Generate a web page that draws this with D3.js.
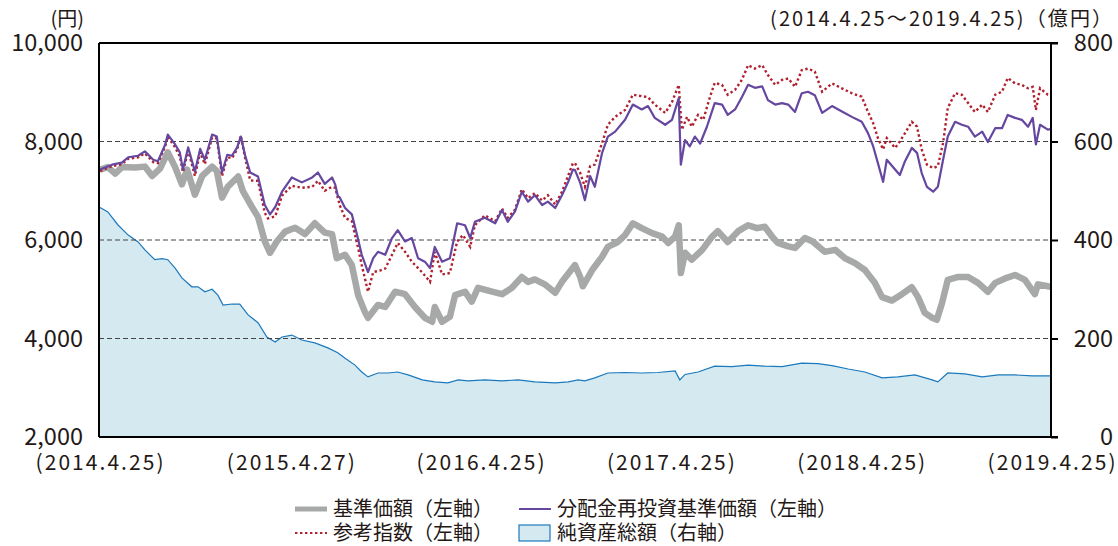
<!DOCTYPE html>
<html>
<head>
<meta charset="utf-8">
<script src="https://cdnjs.cloudflare.com/ajax/libs/d3/7.8.5/d3.min.js"></script>
<style>
  body { margin: 0; background: #fff; }
  svg text { font-family: "Noto Sans CJK JP", "Noto Sans", sans-serif; fill: #231815; }
</style>
</head>
<body>
<div id="chart-area"></div>
<script>
// period 2014.4.25 - 2019.4.25, data points are [days since start, value]
const startDate = new Date(2014, 3, 25)
const endDate = new Date(2019, 3, 25)

const xTickDates = [new Date(2014, 3, 25), new Date(2015, 3, 27), new Date(2016, 3, 25),
  new Date(2017, 3, 25), new Date(2018, 3, 25), new Date(2019, 3, 25)]
const xTickLabels = ["(2014.4.25)", "(2015.4.27)", "(2016.4.25)", "(2017.4.25)", "(2018.4.25)", "(2019.4.25)"]
const leftTicks = [2000, 4000, 6000, 8000, 10000]
const rightTicks = [0, 200, 400, 600, 800]
const gridTicks = [4000, 6000, 8000]

const seriesNames = ["基準価額（左軸）", "分配金再投資基準価額（左軸）", "参考指数（左軸）", "純資産総額（右軸）"]

// 基準価額 (円)
const basePrice = [[2,7430],[17,7480],[31,7350],[44,7480],[69,7470],[88,7490],[102,7300],[117,7450],[132,7780],[146,7480],[159,7130],[169,7430],[184,6920],[198,7300],[217,7490],[226,7400],[236,6860],[247,7080],[267,7290],[276,6990],[293,6680],[305,6470],[318,5970],[328,5740],[341,5970],[357,6170],[376,6250],[395,6120],[414,6340],[433,6150],[447,6120],[456,5630],[472,5700],[485,5490],[497,4880],[510,4540],[516,4420],[535,4680],[549,4640],[568,4950],[587,4900],[606,4640],[625,4420],[639,4340],[644,4640],[658,4340],[673,4440],[683,4880],[702,4950],[715,4750],[727,5030],[754,4950],[773,4900],[792,5030],[811,5250],[823,5150],[836,5200],[855,5100],[875,4930],[888,5150],[913,5490],[923,5250],[928,5060],[946,5390],[965,5660],[976,5860],[995,5960],[1009,6100],[1024,6340],[1041,6240],[1061,6140],[1080,6070],[1092,5940],[1105,6070],[1112,6300],[1116,5330],[1124,5740],[1137,5600],[1157,5800],[1176,6070],[1187,6180],[1206,5960],[1226,6180],[1245,6300],[1262,6240],[1277,6270],[1291,6070],[1302,5940],[1322,5870],[1335,5840],[1354,6040],[1369,5970],[1383,5840],[1392,5760],[1412,5800],[1431,5630],[1450,5530],[1469,5390],[1488,5130],[1502,4840],[1521,4770],[1540,4900],[1559,5040],[1571,4840],[1584,4520],[1598,4420],[1607,4380],[1617,4720],[1628,5190],[1648,5250],[1667,5250],[1686,5130],[1705,4950],[1719,5130],[1738,5220],[1757,5290],[1776,5190],[1795,4900],[1801,5100],[1820,5060],[1826,5050]]

// 分配金再投資基準価額 (円)
const reinvestPrice = [[2,7430],[25,7530],[44,7570],[56,7680],[75,7710],[88,7800],[104,7630],[113,7600],[127,7940],[132,8140],[146,7940],[155,7780],[161,7430],[171,7880],[184,7390],[194,7850],[203,7630],[217,8140],[226,8100],[236,7370],[246,7730],[255,7710],[265,7880],[272,8100],[280,7730],[290,7370],[305,7290],[318,6710],[328,6520],[338,6670],[351,6980],[370,7270],[389,7170],[409,7270],[420,7370],[433,7140],[447,7270],[453,7130],[458,6900],[462,6860],[472,6650],[485,6520],[495,6100],[504,5700],[516,5350],[526,5630],[535,5760],[549,5700],[562,6040],[573,6200],[587,5970],[600,6040],[612,5630],[625,5560],[635,5430],[644,5860],[658,5560],[673,5630],[687,6340],[702,6300],[712,6040],[721,6370],[740,6450],[760,6340],[773,6610],[784,6370],[798,6580],[811,6980],[823,6780],[836,6910],[850,6710],[861,6780],[875,6650],[888,6910],[900,7180],[909,7430],[913,7420],[923,7160],[932,6810],[942,7300],[951,7080],[965,7770],[976,8100],[990,8200],[1009,8440],[1024,8750],[1041,8650],[1053,8720],[1066,8480],[1086,8340],[1099,8440],[1112,8880],[1116,7530],[1124,8030],[1133,7900],[1143,8100],[1153,7960],[1166,8300],[1181,8780],[1195,8750],[1206,8540],[1220,8650],[1233,8900],[1245,9150],[1258,9090],[1272,9120],[1283,8840],[1297,8750],[1310,8780],[1322,8750],[1335,8600],[1348,8980],[1360,9010],[1373,8940],[1387,8580],[1406,8720],[1425,8610],[1444,8500],[1463,8400],[1475,8170],[1485,7900],[1494,7560],[1504,7180],[1511,7630],[1527,7430],[1536,7320],[1546,7600],[1559,7870],[1569,7770],[1578,7360],[1588,7080],[1600,6980],[1609,7080],[1619,7630],[1628,8100],[1642,8400],[1655,8340],[1667,8300],[1680,8100],[1694,8200],[1705,7990],[1719,8270],[1732,8270],[1743,8540],[1757,8480],[1770,8440],[1782,8300],[1791,8480],[1797,7940],[1805,8340],[1820,8240],[1826,8260]]

// 参考指数
const refIndex = [[2,7400],[25,7500],[44,7540],[56,7650],[75,7680],[88,7760],[104,7580],[113,7560],[127,7900],[132,8100],[146,7880],[155,7700],[161,7380],[171,7820],[184,7300],[194,7780],[203,7540],[217,8080],[226,8060],[236,7300],[246,7680],[255,7660],[265,7840],[272,8120],[280,7680],[290,7210],[305,7200],[318,6550],[324,6440],[338,6480],[351,6900],[370,7100],[389,7060],[409,7080],[420,7200],[433,7000],[447,7080],[453,7060],[462,6700],[472,6450],[485,6380],[497,5840],[504,5490],[516,4950],[526,5350],[539,5380],[549,5420],[562,5700],[573,5940],[587,5760],[600,5560],[612,5430],[621,5330],[635,5150],[644,5760],[658,5300],[673,5330],[687,5970],[698,6100],[712,5860],[721,6300],[740,6500],[760,6380],[773,6640],[784,6450],[798,6620],[811,7030],[823,6850],[836,6950],[850,6800],[861,6910],[875,6720],[888,6980],[900,7310],[909,7560],[913,7560],[923,7360],[932,7080],[942,7500],[951,7530],[965,7970],[976,8340],[990,8500],[1009,8640],[1024,8950],[1041,8920],[1053,8900],[1066,8750],[1086,8580],[1099,8800],[1112,9150],[1118,8240],[1128,8500],[1137,8300],[1149,8540],[1159,8440],[1172,8910],[1181,9190],[1195,9150],[1206,8950],[1220,9050],[1233,9250],[1245,9550],[1258,9480],[1272,9550],[1283,9350],[1297,9150],[1310,9250],[1322,9280],[1335,9110],[1348,9450],[1360,9480],[1373,9420],[1387,9010],[1406,9180],[1425,9080],[1444,8980],[1463,8910],[1475,8600],[1485,8370],[1494,8070],[1504,7840],[1511,8070],[1527,7870],[1536,8000],[1546,8170],[1559,8400],[1569,8300],[1578,7840],[1588,7530],[1600,7460],[1609,7500],[1619,7970],[1628,8680],[1642,8980],[1655,8950],[1667,8780],[1680,8600],[1694,8750],[1705,8600],[1719,8950],[1732,9010],[1743,9290],[1757,9180],[1770,9150],[1782,9080],[1791,9110],[1797,8640],[1805,9080],[1820,8950],[1826,8930]]

// 純資産総額 (億円)
const netAssets = [[2,466],[17,457],[36,431],[56,410],[75,396],[88,380],[107,360],[121,362],[132,360],[146,343],[159,323],[178,305],[190,305],[203,295],[217,300],[228,288],[238,268],[255,270],[270,270],[286,248],[305,232],[322,203],[338,193],[351,203],[370,207],[389,197],[414,191],[439,181],[458,171],[472,160],[491,146],[504,132],[516,122],[535,130],[554,130],[573,132],[593,126],[620,116],[644,112],[669,110],[689,116],[708,114],[740,116],[773,114],[804,116],[836,112],[875,110],[900,112],[919,116],[932,114],[951,120],[976,130],[1009,131],[1041,130],[1072,131],[1105,134],[1114,116],[1124,127],[1149,132],[1181,144],[1214,143],[1245,146],[1277,144],[1310,143],[1348,150],[1379,149],[1406,145],[1437,138],[1469,132],[1502,120],[1532,122],[1565,126],[1598,116],[1609,112],[1628,130],[1661,128],[1694,122],[1725,126],[1757,126],[1790,124],[1820,124],[1826,124]]

class FundChart {
  constructor(_parentElement) {
    this.parentElement = _parentElement
    this.initVis()
  }

  initVis() {
    const vis = this

    vis.MARGIN = { LEFT: 99, RIGHT: 67, TOP: 43, BOTTOM: 109 }
    vis.WIDTH = 1118 - vis.MARGIN.LEFT - vis.MARGIN.RIGHT
    vis.HEIGHT = 546 - vis.MARGIN.TOP - vis.MARGIN.BOTTOM

    vis.svg = d3.select(vis.parentElement)
      .append("svg")
      .attr("width", 1118)
      .attr("height", 546)

    vis.g = vis.svg.append("g")
      .attr("transform", `translate(${vis.MARGIN.LEFT}, ${vis.MARGIN.TOP})`)

    vis.x = d3.scaleTime().domain([startDate, endDate]).range([0, vis.WIDTH])
    vis.yLeft = d3.scaleLinear().domain([2000, 10000]).range([vis.HEIGHT, 0])
    vis.yRight = d3.scaleLinear().domain([0, 800]).range([vis.HEIGHT, 0])

    vis.dayX = d => vis.x(d3.timeDay.offset(startDate, d[0]))

    vis.drawSeries()
    vis.drawAxes()
    vis.drawLegend()
  }

  drawSeries() {
    const vis = this

    // net assets area (right axis)
    const area = d3.area()
      .x(vis.dayX)
      .y0(vis.HEIGHT)
      .y1(d => vis.yRight(d[1]))
    vis.g.append("path")
      .datum(netAssets)
      .attr("d", area)
      .attr("fill", "#d4e9f0")
    vis.g.append("path")
      .datum(netAssets)
      .attr("d", d3.line().x(vis.dayX).y(d => vis.yRight(d[1])))
      .attr("fill", "none")
      .attr("stroke", "#1b79bd")
      .attr("stroke-width", 1.2)

    // grid
    vis.g.selectAll(".grid")
      .data(gridTicks)
      .enter()
      .append("line")
      .attr("class", "grid")
      .attr("x1", 0)
      .attr("x2", vis.WIDTH)
      .attr("y1", d => vis.yLeft(d))
      .attr("y2", d => vis.yLeft(d))
      .attr("stroke", "#444")
      .attr("stroke-width", 1)
      .attr("stroke-dasharray", "5,3")

    const line = d3.line().x(vis.dayX).y(d => vis.yLeft(d[1]))

    vis.g.append("path")
      .datum(basePrice)
      .attr("d", line)
      .attr("fill", "none")
      .attr("stroke", "#a7a8a8")
      .attr("stroke-width", 6.5)
      .attr("stroke-linejoin", "round")

    vis.g.append("path")
      .datum(refIndex)
      .attr("d", line)
      .attr("fill", "none")
      .attr("stroke", "#b0202f")
      .attr("stroke-width", 2.4)
      .attr("stroke-dasharray", "2.4,2.6")

    vis.g.append("path")
      .datum(reinvestPrice)
      .attr("d", line)
      .attr("fill", "none")
      .attr("stroke", "#6547a0")
      .attr("stroke-width", 2.2)
      .attr("stroke-linejoin", "round")
  }

  drawAxes() {
    const vis = this

    // frame
    const frame = vis.g.append("g")
      .attr("stroke", "#000")
      .attr("stroke-width", 2)
    frame.append("line").attr("x1", 0).attr("x2", vis.WIDTH + 7).attr("y1", 0).attr("y2", 0)
    frame.append("line").attr("x1", 0).attr("x2", vis.WIDTH + 7).attr("y1", vis.HEIGHT).attr("y2", vis.HEIGHT)
    frame.append("line").attr("x1", 0).attr("x2", 0).attr("y1", 0).attr("y2", vis.HEIGHT)
    frame.append("line").attr("x1", vis.WIDTH).attr("x2", vis.WIDTH).attr("y1", 0).attr("y2", vis.HEIGHT)

    const yLeftAxis = vis.g.append("g")
      .call(d3.axisLeft(vis.yLeft).tickValues(leftTicks).tickSize(0).tickPadding(16).tickFormat(d3.format(",")))
    yLeftAxis.select(".domain").remove()
    yLeftAxis.selectAll("text").attr("font-size", "23.5px").attr("fill", "#231815")

    const yRightAxis = vis.g.append("g")
      .attr("transform", `translate(${vis.WIDTH}, 0)`)
      .call(d3.axisRight(vis.yRight).tickValues(rightTicks).tickSize(7))
    yRightAxis.select(".domain").remove()
    yRightAxis.selectAll("line").attr("stroke", "#000").attr("stroke-width", 2)
    yRightAxis.selectAll("text")
      .attr("x", 62)
      .attr("text-anchor", "end")
      .attr("font-size", "23.5px")
      .attr("fill", "#231815")

    const xAxis = vis.g.append("g")
      .attr("transform", `translate(0, ${vis.HEIGHT})`)
      .call(d3.axisBottom(vis.x).tickValues(xTickDates).tickSize(0).tickPadding(18)
        .tickFormat((d, i) => xTickLabels[i]))
    xAxis.select(".domain").remove()
    xAxis.selectAll("text")
      .attr("font-size", "21px")
      .attr("fill", "#231815")
      .attr("textLength", 128)
      .attr("lengthAdjust", "spacing")

    vis.svg.append("text")
      .attr("x", 84)
      .attr("y", 26)
      .attr("text-anchor", "end")
      .attr("font-size", "20px")
      .text("(円)")

    vis.svg.append("text")
      .attr("x", 1112)
      .attr("y", 26)
      .attr("text-anchor", "end")
      .attr("font-size", "20px")
      .attr("textLength", 342)
      .attr("lengthAdjust", "spacing")
      .text("(2014.4.25～2019.4.25)（億円）")
  }

  drawLegend() {
    const vis = this
    const rows = [
      { name: seriesNames[0], x: 295, y: 509, type: "gray" },
      { name: seriesNames[1], x: 519, y: 509, type: "purple" },
      { name: seriesNames[2], x: 295, y: 533, type: "red" },
      { name: seriesNames[3], x: 519, y: 533, type: "area" }
    ]
    const legend = vis.svg.append("g")
    rows.forEach(r => {
      if (r.type === "area") {
        legend.append("rect")
          .attr("x", r.x).attr("y", r.y - 8).attr("width", 31).attr("height", 16)
          .attr("fill", "#d4e9f0").attr("stroke", "#1b79bd").attr("stroke-width", 1.2)
      } else {
        const ln = legend.append("line")
          .attr("x1", r.x).attr("x2", r.x + 32).attr("y1", r.y).attr("y2", r.y)
        if (r.type === "gray") ln.attr("stroke", "#a7a8a8").attr("stroke-width", 5)
        if (r.type === "purple") ln.attr("stroke", "#6547a0").attr("stroke-width", 2)
        if (r.type === "red") ln.attr("stroke", "#b0202f").attr("stroke-width", 2).attr("stroke-dasharray", "2.4,2.6")
      }
      legend.append("text")
        .attr("x", r.x + 38)
        .attr("y", r.y)
        .attr("dy", "0.36em")
        .attr("font-size", "20px")
        .text(r.name)
    })
  }
}

new FundChart("#chart-area")
</script>
</body>
</html>
